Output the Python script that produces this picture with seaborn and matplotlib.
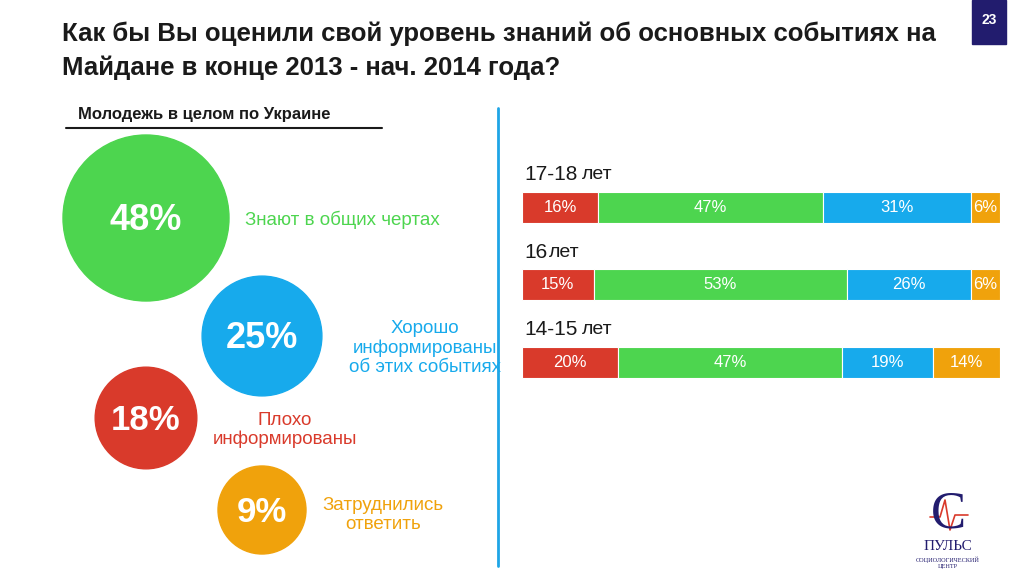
import numpy as np
import matplotlib
matplotlib.use("Agg")
import matplotlib.pyplot as plt
import seaborn as sns

# data
overall_labels = ["Знают в общих чертах", "Хорошо\nинформированы\nоб этих событиях",
                  "Плохо\nинформированы", "Затруднились\nответить"]
overall_values = [48, 25, 18, 9]
age_groups = ["17-18 лет", "16 лет", "14-15 лет"]
poor = [16, 15, 20]
general = [47, 53, 47]
well = [31, 26, 19]
hard = [6, 6, 14]

RED, GREEN, BLUE, ORANGE = "#d93a2b", "#4dd54f", "#17aaec", "#f0a20c"
colors_overall = [GREEN, BLUE, RED, ORANGE]

sns.set_theme(style="white")
plt.rcParams['font.family'] = ['Liberation Sans', 'DejaVu Sans']

fig = plt.figure(figsize=(10.24, 5.76), dpi=100)
fig.patch.set_facecolor("white")

# canvas in pixel coords
cv = fig.add_axes([0, 0, 1, 1])
cv.set_xlim(0, 1024)
cv.set_ylim(576, 0)
cv.axis("off")

cv.text(62, 51, "Как бы Вы оценили свой уровень знаний об основных событиях на\nМайдане в конце 2013 - нач. 2014 года?",
        fontsize=18.5, fontweight="bold", color="#1a1a1a", va="center", linespacing=1.5)
cv.add_patch(plt.Rectangle((972, 0), 34, 44, color="#221c6e"))
cv.text(989, 20, "23", color="white", fontsize=10, fontweight="bold", ha="center", va="center")

cv.text(78, 115, "Молодежь в целом по Украине", fontsize=12, fontweight="bold", color="#1a1a1a", va="center")
cv.plot([66, 382], [128, 128], color="#1a1a1a", lw=1.5)
cv.plot([498, 498], [108, 566], color="#1ea5e6", lw=2)

centers = [(146, 218), (262, 336), (146, 418), (262, 510)]
text_pos = [(245, 220, "left"), (425, 348, "center"), (285, 430, "center"), (383, 515, "center")]
radii = [83 * np.sqrt(v / overall_values[0]) for v in overall_values]
radii[3] = max(radii[3], 44)
for (cx, cy), r, v, c, lab, (tx, ty, ha) in zip(centers, radii, overall_values, colors_overall, overall_labels, text_pos):
    cv.add_patch(plt.Circle((cx, cy), r, color=c))
    cv.text(cx, cy + 2, f"{v}%", color="white", fontsize=26 if v > 20 else 25, fontweight="bold",
            ha="center", va="center")
    cv.text(tx, ty, lab, color=c, fontsize=13.5, ha=ha, va="center", linespacing=1.15)

# logo
cv.text(948, 515, "C", fontsize=38, color="#221c6e", ha="center", va="center", family="Liberation Serif")
cv.plot([930, 940, 945, 950, 955, 968], [517, 517, 500, 530, 515, 515], color="#d93a2b", lw=1.2)
cv.text(948, 547, "ПУЛЬС", fontsize=11, color="#221c6e", ha="center", va="center", family="Liberation Serif")
cv.text(948, 563, "СОЦИОЛОГИЧЕСКИЙ\nЦЕНТР", fontsize=4.5, color="#221c6e", ha="center", va="center", family="Liberation Serif")

# stacked bars
top, unit = 149, 77.5
ax = fig.add_axes([522 / 1024, 1 - (top + 3.35 * unit) / 576, 478 / 1024, 3.35 * unit / 576])
ax.set_xlim(0, 100)
ax.set_ylim(2.6, -0.75)
ax.axis("off")
y = np.arange(len(age_groups))
left = np.zeros(len(age_groups))
for vals, c in zip([poor, general, well, hard], [RED, GREEN, BLUE, ORANGE]):
    vals = np.array(vals)
    ax.barh(y, vals, left=left, color=c, height=0.4, edgecolor="white", linewidth=0.8)
    for yi, l, v in zip(y, left, vals):
        ax.text(l + v / 2, yi, f"{v}%", color="white", fontsize=12, ha="center", va="center")
    left += vals
for yi, g in zip(y, age_groups):
    num, word = g.split(" ")
    ax.text(0.5, yi - 0.42, num, fontsize=15, ha="left", va="center", color="#1a1a1a")
    ax.text(len(num) * 2.3 + 1.0, yi - 0.42, word, fontsize=14, ha="left", va="center", color="#1a1a1a")

fig.savefig("out.png", dpi=100)
